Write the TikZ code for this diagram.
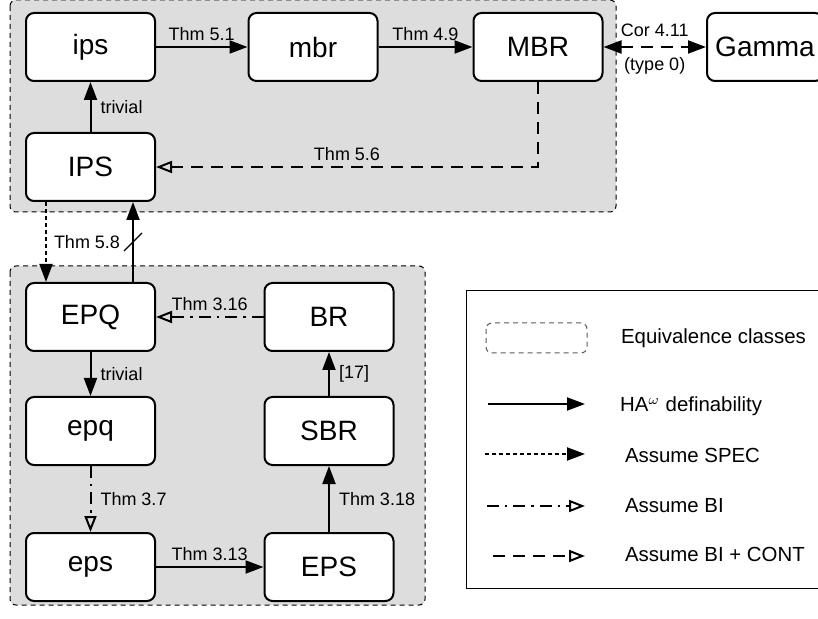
\documentclass[tikz,border=0pt]{standalone}
\usepackage{fontspec}
\setmainfont{Liberation Sans}
\usepackage{xcolor}
\usetikzlibrary{arrows.meta}
\definecolor{grauton}{RGB}{221,221,221}
\definecolor{randgrau}{RGB}{90,90,90}
\newcommand{\knotenschrift}{\fontsize{14}{16}\selectfont}
\newcommand{\kleinschrift}{\fontsize{9}{11}\selectfont}
\newcommand{\legendenschrift}{\fontsize{10.2}{12}\selectfont}

\tikzset{
  kasten/.style={draw, line width=1pt, rounded corners=4pt, fill=white,
    minimum width=64.5pt, minimum height=34pt, inner sep=0pt, font=\knotenschrift},
  klasse/.style={draw, dash pattern=on 2.5pt off 2pt, line width=0.5pt,
    rounded corners=3pt, fill=grauton},
  definierbar/.style={line width=1pt, -{Triangle[length=9pt,width=6.5pt]}},
  spec/.style={line width=1pt, dash pattern=on 2pt off 1.5pt, -{Triangle[length=9pt,width=6.5pt]}},
  bi/.style={line width=1pt, dash pattern=on 6pt off 3pt on 1.2pt off 3pt, -{Triangle[open,length=8pt,width=6pt]}},
  bicont/.style={line width=1pt, dash pattern=on 6pt off 4pt, -{Triangle[open,length=8pt,width=6pt]}},
  marke/.style={font=\kleinschrift, inner sep=2.5pt}
}

\begin{document}
\begin{tikzpicture}[x=0.5pt, y=-0.5pt]
    % Rahmen
    \useasboundingbox (0,0) rectangle (818,619);
    \clip (0,0) rectangle (818,619);

    % Aequivalenzklassen
    \draw[klasse] (10,0) rectangle (616,212);
    \draw[klasse] (10,266) rectangle (425,605);

    % Knoten oben
    \node[kasten] (ips)   at (90.5,47)  {ips};
    \node[kasten] (mbr)   at (313,47)   {mbr};
    \node[kasten] (MBR)   at (538,47)   {MBR};
    \node[kasten, minimum width=58pt] (Gamma) at (765,47) {Gamma};
    \node[kasten] (IPS)   at (90.5,167) {IPS};

    % Knoten unten
    \node[kasten] (EPQ) at (90.5,317) {EPQ};
    \node[kasten] (BR)  at (329,317)  {BR};
    \node[kasten] (epq) at (90.5,431) {epq};
    \node[kasten] (SBR) at (329,431)  {SBR};
    \node[kasten] (eps) at (90.5,567) {eps};
    \node[kasten] (EPS) at (329,567)  {EPS};

    % Pfeile oben
    \draw[definierbar] (ips) -- node[marke, above] {Thm 5.1} (mbr);
    \draw[definierbar] (mbr) -- node[marke, above] {Thm 4.9} (MBR);
    \draw[line width=1pt, dash pattern=on 6pt off 4pt,
          {Triangle[length=9pt,width=6.5pt]}-{Triangle[length=9pt,width=6.5pt]}]
        (MBR) -- node[marke, above, yshift=2pt] {Cor 4.11} node[marke, below, yshift=-2pt] {(type 0)} (Gamma);
    \draw[definierbar] (IPS) -- node[marke, right, xshift=2pt] {trivial} (ips);
    \draw[bicont] (MBR.south) |- node[marke, above, pos=0.75] {Thm 5.6} (IPS.east);

    % Pfeile zwischen den Klassen
    \draw[spec] ([xshift=-22.25pt]IPS.south) -- node[marke, right, xshift=1pt] {Thm 5.8} ([xshift=-22.25pt]EPQ.north);
    \draw[definierbar] ([xshift=21.25pt]EPQ.north) -- coordinate[pos=0.5] (nicht) ([xshift=21.25pt]IPS.south);
    \draw[line width=0.6pt] (nicht) ++(-9,9) -- ++(18,-18);

    % Pfeile unten
    \draw[bi] (BR) -- node[marke, above] {Thm 3.16} (EPQ);
    \draw[definierbar] (EPQ) -- node[marke, right, xshift=2pt] {trivial} (epq);
    \draw[bi] (epq) -- node[marke, right, xshift=2pt] {Thm 3.7} (eps);
    \draw[definierbar] (eps) -- node[marke, above] {Thm 3.13} (EPS);
    \draw[definierbar] (EPS) -- node[marke, right, xshift=2pt] {Thm 3.18} (SBR);
    \draw[definierbar] (SBR) -- node[marke, right, xshift=2pt] {[17]} (BR);

    % Legende
    \draw[line width=0.5pt] (466,291) rectangle (830,588);
    \draw[randgrau, dash pattern=on 2.5pt off 2pt, line width=0.5pt, rounded corners=3pt]
        (486,323) rectangle (587,353);
    \coordinate (l1a) at (488,404); \coordinate (l1b) at (585,404);
    \coordinate (l2a) at (485,454); \coordinate (l2b) at (585,454);
    \coordinate (l3a) at (487,506); \coordinate (l3b) at (585,506);
    \coordinate (l4a) at (493,556); \coordinate (l4b) at (585,556);
    \draw[definierbar] (l1a) -- (l1b);
    \draw[spec] (l2a) -- (l2b);
    \draw[bi] (l3a) -- (l3b);
    \draw[bicont] (l4a) -- (l4b);
    \node[anchor=west, font=\legendenschrift] (t0) at (614,338) {Equivalence classes};
    \node[anchor=west, font=\legendenschrift] (t1) at (613,406) {HA$^\omega$ definability};
    \node[anchor=west, font=\legendenschrift] (t2) at (618,455) {Assume SPEC};
    \node[anchor=west, font=\legendenschrift] (t3) at (618,506) {Assume BI};
    \node[anchor=west, font=\legendenschrift] (t4) at (618,554) {Assume BI + CONT};
\end{tikzpicture}
\end{document}
